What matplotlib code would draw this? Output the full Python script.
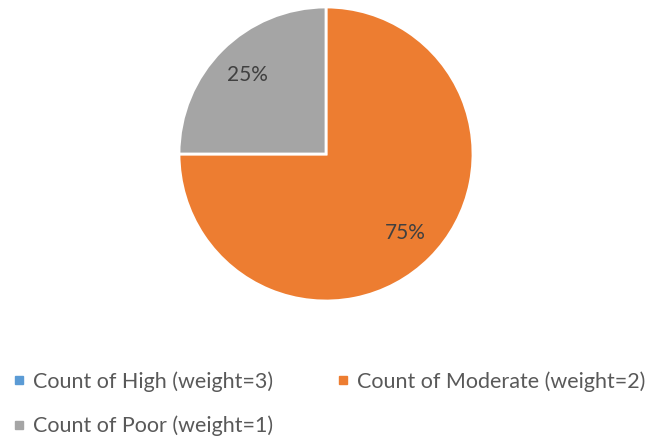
import matplotlib.pyplot as plt
from matplotlib.lines import Line2D

categories = ["Count of High (weight=3)", "Count of Moderate (weight=2)", "Count of Poor (weight=1)"]
values = [0, 75, 25]
colors = ["#5B9BD5", "#ED7D31", "#A5A5A5"]

plt.rcParams['font.family'] = ['Lato', 'DejaVu Sans']

W, H = 657, 442
fig = plt.figure(figsize=(W / 100, H / 100), dpi=100)

cx, cy, r = 326, 154, 147
ax = fig.add_axes([(cx - r) / W, (H - cy - r) / H, 2 * r / W, 2 * r / H])

wedges, texts, autotexts = ax.pie(
    values, colors=colors, startangle=90, counterclock=False,
    autopct=lambda p: f"{p:.0f}%" if p > 0 else "",
    pctdistance=0.76, radius=1.0,
    wedgeprops=dict(edgecolor="white", linewidth=2.0),
    textprops=dict(color="#404040", fontsize=15),
)
ax.set_xlim(-1.0, 1.0)
ax.set_ylim(-1.0, 1.0)
ax.set_aspect("equal")

handles = [Line2D([0], [0], marker="s", linestyle="none", markersize=5.5,
                  markerfacecolor=c, markeredgecolor=c) for c in colors]
order = [0, 2, 1]
leg = fig.legend([handles[i] for i in order], [categories[i] for i in order],
                 ncol=2, loc="upper left", bbox_to_anchor=(0.02, 0.16),
                 frameon=False, fontsize=15.5, handlelength=0.5,
                 handletextpad=0.4, columnspacing=3.0, labelspacing=1.1,
                 borderaxespad=0.0, borderpad=0.0)
for t in leg.get_texts():
    t.set_color("#595959")

fig.savefig("out.png", dpi=100)
